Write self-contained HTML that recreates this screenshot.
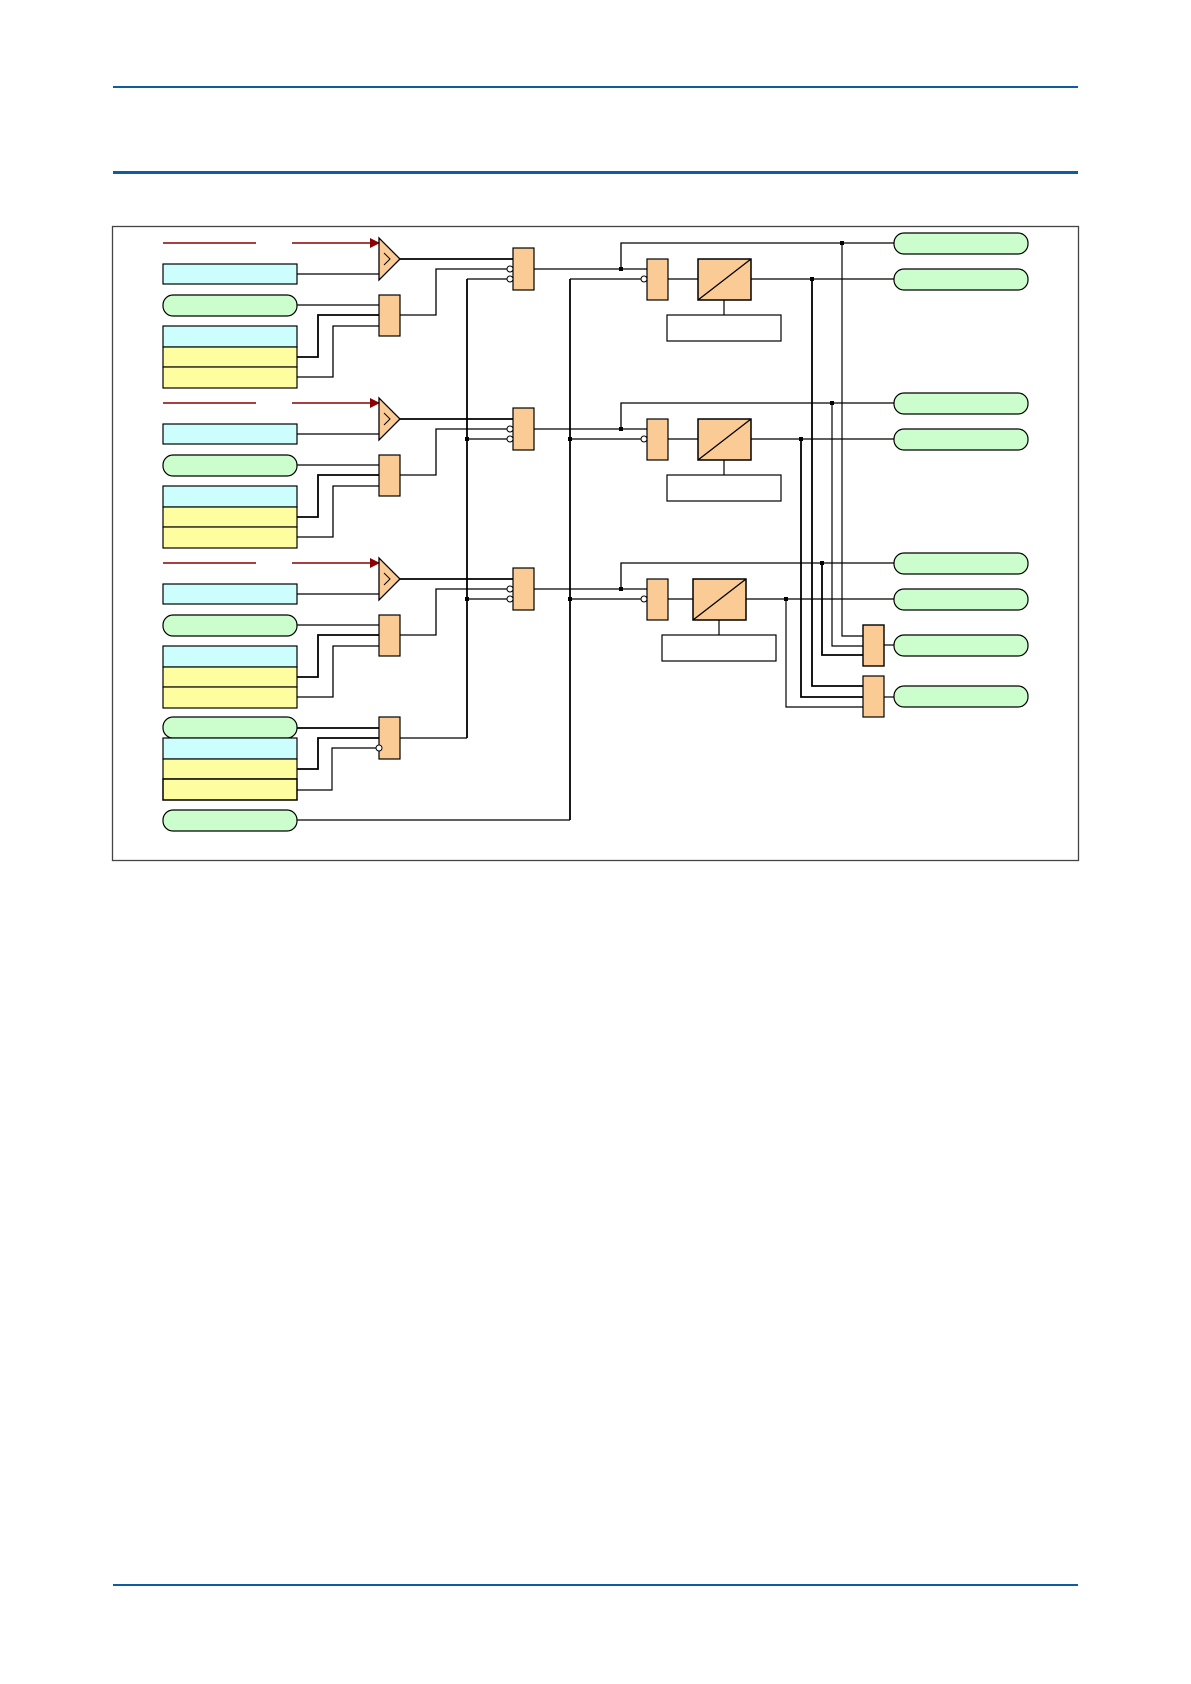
<!DOCTYPE html>
<html><head><meta charset="utf-8"><style>
html,body{margin:0;padding:0;background:#fff;}
svg{display:block;}
</style></head><body>
<svg width="1191" height="1684" viewBox="0 0 1191 1684" xmlns="http://www.w3.org/2000/svg">
<defs>
<g id="left">
  <line x1="163" y1="243" x2="256" y2="243" stroke="#8b0000" stroke-width="1.5"/>
  <line x1="292" y1="243" x2="372" y2="243" stroke="#8b0000" stroke-width="1.5"/>
  <polygon points="370,238 380,243 370,248" fill="#8b0000"/>
  <polygon points="379,238 400,259 379,280" fill="#fbcb95" stroke="#000" stroke-width="1.3"/>
  <polyline points="384,253 390,259 384,265" fill="none" stroke="#000" stroke-width="1"/>
  <rect x="163" y="264" width="134" height="20" fill="#ccfefe" stroke="#000" stroke-width="1.2"/>
  <rect x="163" y="295" width="134" height="21" rx="10" fill="#ccfdcc" stroke="#000" stroke-width="1.2"/>
  <rect x="163" y="326" width="134" height="21" fill="#ccfefe" stroke="#000" stroke-width="1.2"/>
  <rect x="163" y="347" width="134" height="20" fill="#fefea0" stroke="#000" stroke-width="1.2"/>
  <rect x="163" y="367" width="134" height="21" fill="#fefea0" stroke="#000" stroke-width="1.2"/>
  <line x1="297" y1="274" x2="379" y2="274" stroke="#000" stroke-width="1.3"/>
  <line x1="297" y1="305" x2="379" y2="305" stroke="#000" stroke-width="1.3"/>
  <polyline points="297,357 318,357 318,315 379,315" fill="none" stroke="#000" stroke-width="1.8"/>
  <polyline points="297,377 333,377 333,326 379,326" fill="none" stroke="#000" stroke-width="1.3"/>
  <rect x="379" y="295" width="21" height="41" fill="#fbcb95" stroke="#000" stroke-width="1.2"/>
  <polyline points="400,315 436,315 436,269 510,269" fill="none" stroke="#000" stroke-width="1.3"/>
  <line x1="400" y1="259" x2="513" y2="259" stroke="#000" stroke-width="1.8"/>
  <line x1="467" y1="279" x2="510" y2="279" stroke="#000" stroke-width="1.3"/>
  <rect x="513" y="248" width="21" height="42" fill="#fbcb95" stroke="#000" stroke-width="1.2"/>
  <circle cx="510" cy="269" r="3" fill="#fff" stroke="#000" stroke-width="1"/>
  <circle cx="510" cy="279" r="3" fill="#fff" stroke="#000" stroke-width="1"/>
  <line x1="534" y1="269" x2="647" y2="269" stroke="#000" stroke-width="1.3"/>
  <polyline points="621,269 621,243 894,243" fill="none" stroke="#000" stroke-width="1.3"/>
  <rect x="619" y="267" width="4" height="4" fill="#000"/>
  <line x1="570" y1="279" x2="641" y2="279" stroke="#000" stroke-width="1.3"/>
  <circle cx="644" cy="279" r="3" fill="#fff" stroke="#000" stroke-width="1"/>
  <rect x="647" y="259" width="21" height="41" fill="#fbcb95" stroke="#000" stroke-width="1.2"/>
  <line x1="668" y1="279" x2="698" y2="279" stroke="#000" stroke-width="1.3"/>
  <line x1="746" y1="279" x2="894" y2="279" stroke="#000" stroke-width="1.3"/>
  <rect x="894" y="233" width="134" height="21" rx="10" fill="#ccfdcc" stroke="#000" stroke-width="1.2"/>
  <rect x="894" y="269" width="134" height="21" rx="10" fill="#ccfdcc" stroke="#000" stroke-width="1.2"/>
</g>
<g id="conv">
  <rect x="698" y="259" width="53" height="41" fill="#fbcb95" stroke="#000" stroke-width="1.5"/>
  <line x1="698" y1="300" x2="751" y2="259" stroke="#000" stroke-width="1.3"/>
  <line x1="724" y1="300" x2="724" y2="315" stroke="#000" stroke-width="1.2"/>
  <rect x="667" y="315" width="114" height="26" fill="#fff" stroke="#000" stroke-width="1.2"/>
</g>
</defs>
<rect x="113" y="86" width="965" height="2" fill="#0e5da0"/>
<rect x="113" y="171" width="965" height="3" fill="#0e5da0"/>
<rect x="113" y="1584" width="965" height="2" fill="#0e5da0"/>
<rect x="112.5" y="226.5" width="966" height="634" fill="#fff" stroke="#444" stroke-width="1.3"/>

<use href="#left"/>
<use href="#left" y="160"/>
<use href="#left" y="320"/>
<use href="#conv"/>
<use href="#conv" y="160"/>
<use href="#conv" x="-5" y="320"/>

<line x1="467" y1="279" x2="467" y2="738" stroke="#000" stroke-width="1.8"/>
<line x1="570" y1="279" x2="570" y2="820" stroke="#000" stroke-width="1.8"/>
<rect x="465" y="437" width="4" height="4" fill="#000"/>
<rect x="465" y="597" width="4" height="4" fill="#000"/>
<rect x="568" y="437" width="4" height="4" fill="#000"/>
<rect x="568" y="597" width="4" height="4" fill="#000"/>

<rect x="163" y="717" width="134" height="21" rx="10" fill="#ccfdcc" stroke="#000" stroke-width="1.2"/>
<rect x="163" y="738" width="134" height="21" fill="#ccfefe" stroke="#000" stroke-width="1.2"/>
<rect x="163" y="759" width="134" height="20" fill="#fefea0" stroke="#000" stroke-width="1.2"/>
<rect x="163" y="779" width="134" height="21" fill="#fefea0" stroke="#000" stroke-width="1.5"/>
<line x1="297" y1="728" x2="379" y2="728" stroke="#000" stroke-width="1.8"/>
<polyline points="297,769 318,769 318,738 379,738" fill="none" stroke="#000" stroke-width="1.8"/>
<polyline points="297,790 332,790 332,748 376,748" fill="none" stroke="#000" stroke-width="1.2"/>
<rect x="379" y="717" width="21" height="42" fill="#fbcb95" stroke="#000" stroke-width="1.2"/>
<circle cx="379" cy="748" r="3" fill="#fff" stroke="#000" stroke-width="1"/>
<line x1="400" y1="738" x2="467" y2="738" stroke="#000" stroke-width="1.3"/>
<rect x="163" y="810" width="134" height="21" rx="10" fill="#ccfdcc" stroke="#000" stroke-width="1.2"/>
<line x1="297" y1="820" x2="570" y2="820" stroke="#000" stroke-width="1.3"/>

<polyline points="842,243 842,636 863,636" fill="none" stroke="#000" stroke-width="1.2"/>
<polyline points="832,403 832,646 863,646" fill="none" stroke="#000" stroke-width="1.2"/>
<polyline points="822,563 822,655 863,655" fill="none" stroke="#000" stroke-width="1.8"/>
<polyline points="812,279 812,686 863,686" fill="none" stroke="#000" stroke-width="1.8"/>
<polyline points="801,439 801,697 863,697" fill="none" stroke="#000" stroke-width="1.8"/>
<polyline points="786,599 786,707 863,707" fill="none" stroke="#000" stroke-width="1.2"/>
<rect x="840" y="241" width="4" height="4" fill="#000"/>
<rect x="830" y="401" width="4" height="4" fill="#000"/>
<rect x="820" y="561" width="4" height="4" fill="#000"/>
<rect x="810" y="277" width="4" height="4" fill="#000"/>
<rect x="799" y="437" width="4" height="4" fill="#000"/>
<rect x="784" y="597" width="4" height="4" fill="#000"/>
<rect x="863" y="625" width="21" height="41" fill="#fbcb95" stroke="#000" stroke-width="1.4"/>
<rect x="863" y="676" width="21" height="41" fill="#fbcb95" stroke="#000" stroke-width="1.2"/>
<line x1="884" y1="645" x2="894" y2="645" stroke="#000" stroke-width="1.2"/>
<line x1="884" y1="697" x2="894" y2="697" stroke="#000" stroke-width="1.2"/>
<rect x="894" y="635" width="134" height="21" rx="10" fill="#ccfdcc" stroke="#000" stroke-width="1.2"/>
<rect x="894" y="686" width="134" height="21" rx="10" fill="#ccfdcc" stroke="#000" stroke-width="1.2"/>
</svg>
</body></html>
